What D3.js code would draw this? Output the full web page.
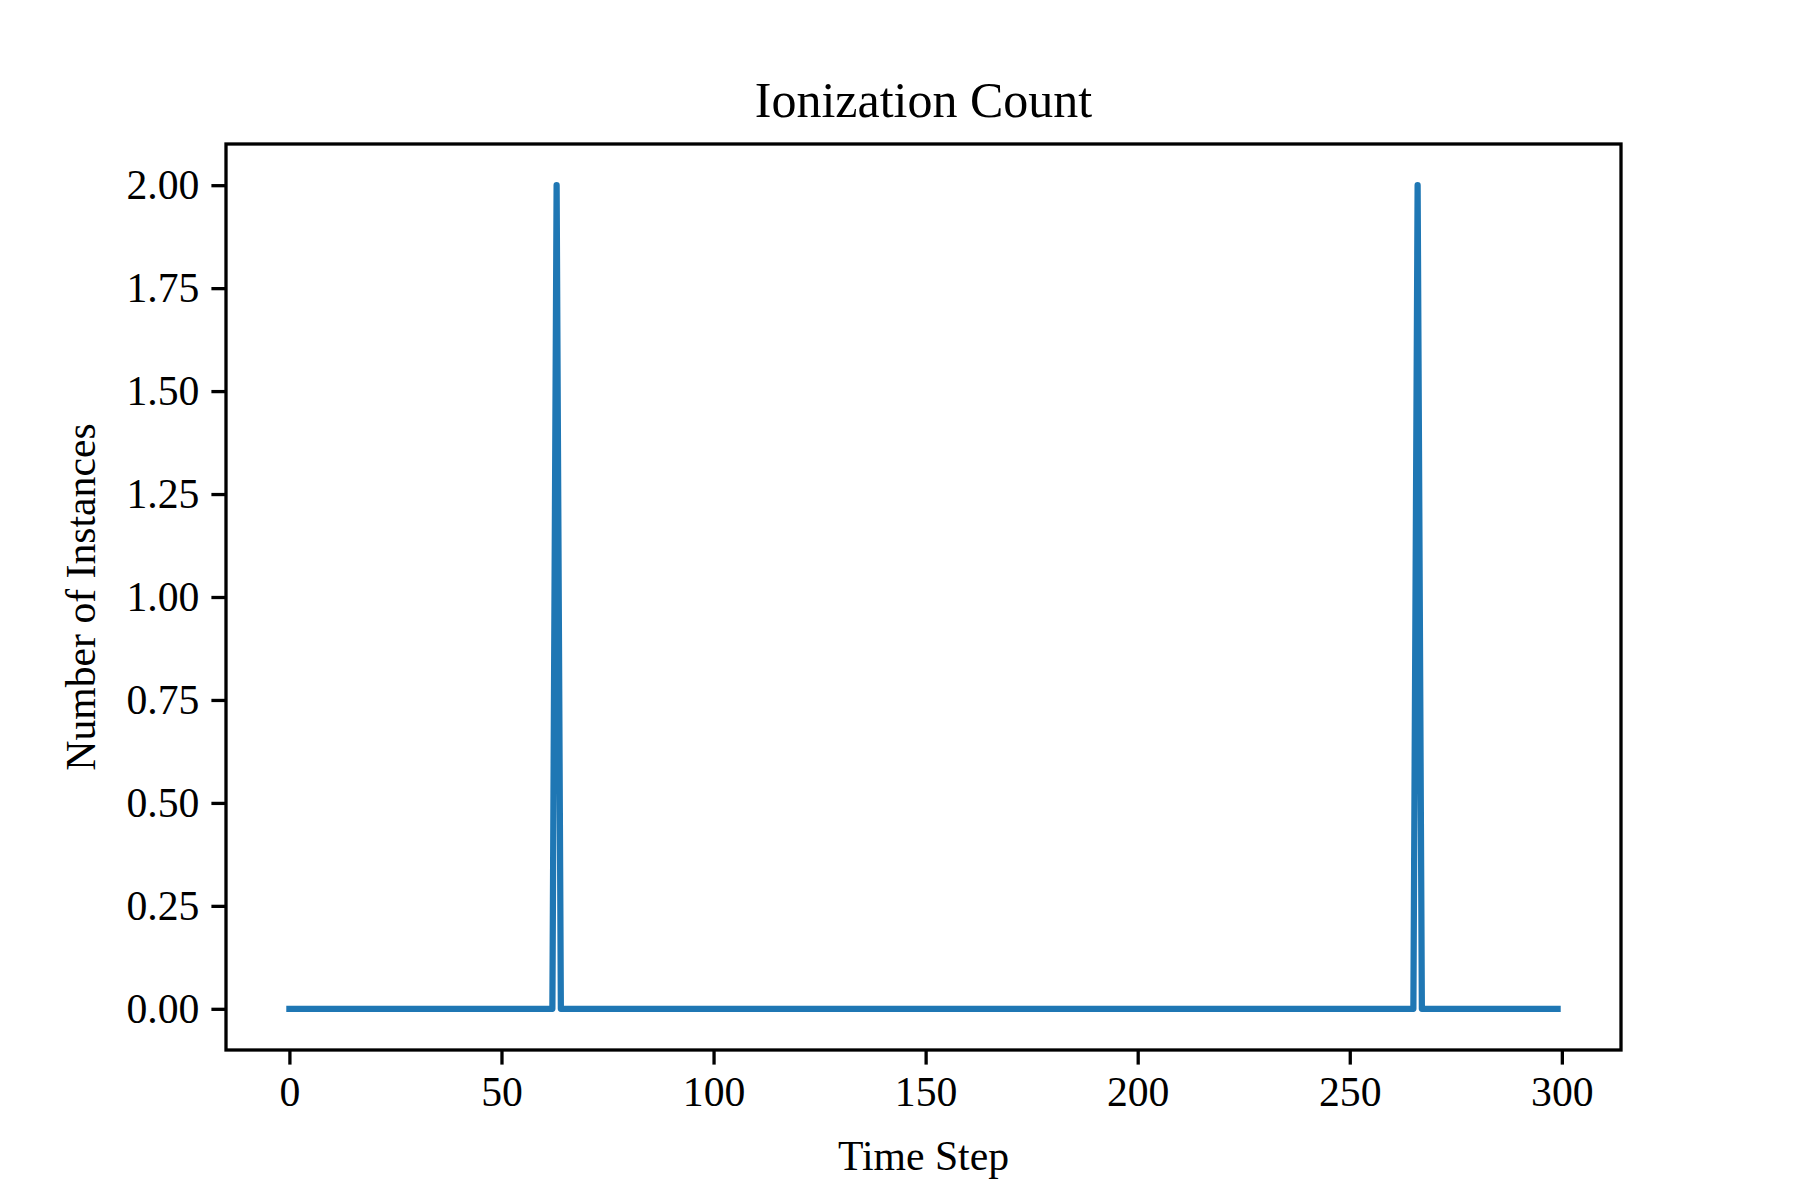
<!DOCTYPE html>
<html><head><meta charset="utf-8">
<script src="https://cdn.jsdelivr.net/npm/d3@7"></script>
<style>body{margin:0;background:#fff}</style></head>
<body><svg id="c" width="1800" height="1200"></svg>
<script>
const steps = d3.range(0, 300);
const peakSteps = [63, 266];
const peakValues = [2, 2];
const counts = steps.map(s => { const i = peakSteps.indexOf(s); return i >= 0 ? peakValues[i] : 0; });
const xTicks = [0, 50, 100, 150, 200, 250, 300];
const yTicks = [0, 0.25, 0.5, 0.75, 1.0, 1.25, 1.5, 1.75, 2.0];

const svg = d3.select("#c");
const L = 226, R = 1621, T = 144, B = 1050;
const font = "'Liberation Serif', 'DejaVu Serif', serif";
const x = d3.scale ? null : null;
const xs = d3.scaleLinear().domain([-14.95, 313.95]).range([L, R]);
const ys = d3.scaleLinear().domain([-0.1, 2.1]).range([B, T]);

svg.append("path").datum(counts)
  .attr("d", d3.line().x((d, i) => xs(steps[i])).y(d => ys(d)))
  .attr("fill", "none").attr("stroke", "#1f77b4").attr("stroke-width", 6.25)
  .attr("stroke-linejoin", "round").attr("stroke-linecap", "square");

const gx = svg.append("g").attr("transform", `translate(0,${B})`)
  .call(d3.axisBottom(xs).tickValues(xTicks).tickFormat(d3.format("d")).tickSize(14.6).tickPadding(12));
const gy = svg.append("g").attr("transform", `translate(${L},0)`)
  .call(d3.axisLeft(ys).tickValues(yTicks).tickFormat(d3.format(".2f")).tickSize(14.6).tickPadding(12));
[gx, gy].forEach(g => {
  g.select(".domain").remove();
  g.selectAll("line").attr("stroke", "#000").attr("stroke-width", 3.3);
  g.selectAll("text").attr("font-family", font).attr("font-size", 41.7).attr("fill", "#000");
});
svg.append("rect").attr("x", L).attr("y", T).attr("width", R - L).attr("height", B - T)
  .attr("fill", "none").attr("stroke", "#000").attr("stroke-width", 3.3);

svg.append("text").attr("x", (L + R) / 2).attr("y", 117).attr("text-anchor", "middle")
  .attr("font-family", font).attr("font-size", 50).text("Ionization Count");
svg.append("text").attr("x", (L + R) / 2).attr("y", 1170).attr("text-anchor", "middle")
  .attr("font-family", font).attr("font-size", 41.7).text("Time Step");
svg.append("text").attr("transform", `translate(95,${(T + B) / 2}) rotate(-90)`).attr("text-anchor", "middle")
  .attr("font-family", font).attr("font-size", 41.7).text("Number of Instances");
</script></body></html>
